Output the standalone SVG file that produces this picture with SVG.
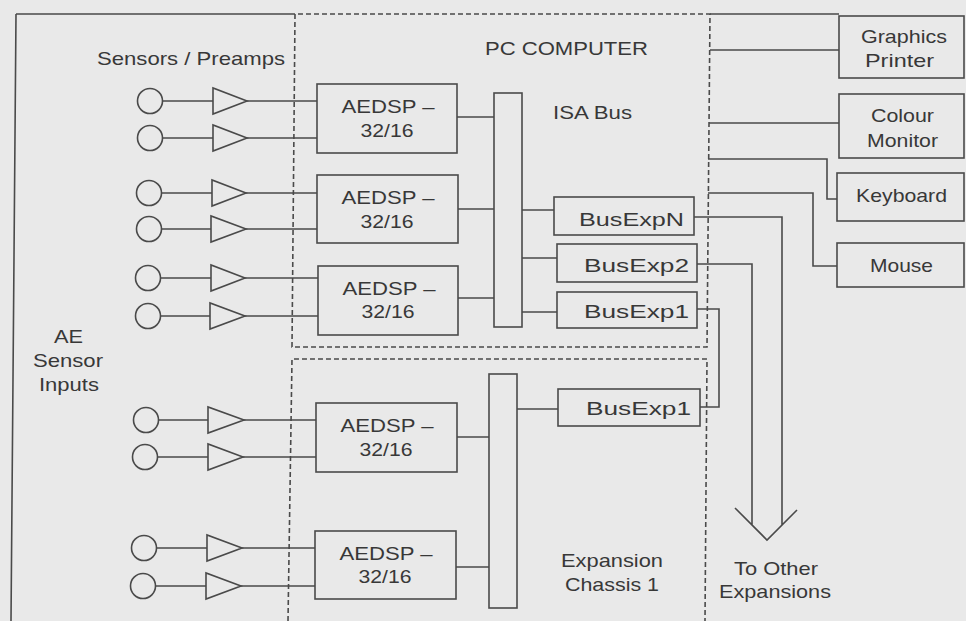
<svg xmlns="http://www.w3.org/2000/svg" width="966" height="621" viewBox="0 0 966 621">
<style>
.ln{fill:none;stroke:#4a4a4a;stroke-width:1.6}
.dash{fill:none;stroke:#4a4a4a;stroke-width:1.6;stroke-dasharray:5 3}
.box{fill:none;stroke:#4a4a4a;stroke-width:1.6}
.t{font-family:"Liberation Sans",Arial,sans-serif;font-size:19px;fill:#383838}
.m{text-anchor:middle}
</style>
<defs>
<g id="sensor"><circle cx="0" cy="0" r="12.5" class="ln"/></g>
</defs>
<rect width="966" height="621" fill="#e9e9e9"/>

<g id="frame">
<path class="ln" d="M16,14 H295 M710,14 H839 M16,14 L11,621"/>
</g>
<g id="pc-computer">
<path class="dash" d="M292,347 L295,14 H710 L707,347 Z"/>
<text class="t" x="485" y="55" textLength="163" lengthAdjust="spacingAndGlyphs">PC COMPUTER</text>
</g>
<g id="expansion-chassis">
<path class="dash" d="M288,621 L292,359 H707 L705,621"/>
<text class="t" x="561" y="567" textLength="102" lengthAdjust="spacingAndGlyphs">Expansion</text>
<text class="t" x="565" y="591" textLength="94" lengthAdjust="spacingAndGlyphs">Chassis 1</text>
</g>

<g id="labels">
<text class="t" x="97" y="65" textLength="188" lengthAdjust="spacingAndGlyphs">Sensors / Preamps</text>
<text class="t" x="54" y="343" textLength="29" lengthAdjust="spacingAndGlyphs">AE</text>
<text class="t" x="33" y="367" textLength="70" lengthAdjust="spacingAndGlyphs">Sensor</text>
<text class="t" x="39" y="391" textLength="60" lengthAdjust="spacingAndGlyphs">Inputs</text>
<text class="t" x="553" y="119" textLength="79" lengthAdjust="spacingAndGlyphs">ISA Bus</text>
<text class="t" x="734" y="575" textLength="84" lengthAdjust="spacingAndGlyphs">To Other</text>
<text class="t" x="719" y="598" textLength="112" lengthAdjust="spacingAndGlyphs">Expansions</text>
</g>

<g id="sensors">
<circle class="ln" cx="150" cy="101" r="12.5"/><path class="ln" d="M213,88 V114 L247,101 Z"/>
<circle class="ln" cx="150" cy="138" r="12.5"/><path class="ln" d="M213,125 V151 L247,138 Z"/>
<circle class="ln" cx="149" cy="193" r="12.5"/><path class="ln" d="M212,180 V206 L246,193 Z"/>
<circle class="ln" cx="149" cy="229" r="12.5"/><path class="ln" d="M211,216 V242 L246,229 Z"/>
<circle class="ln" cx="148" cy="278" r="12.5"/><path class="ln" d="M211,265 V291 L245,278 Z"/>
<circle class="ln" cx="148" cy="316" r="12.5"/><path class="ln" d="M210,303 V329 L245,316 Z"/>
<circle class="ln" cx="146" cy="420" r="12.5"/><path class="ln" d="M208,407 V433 L244,420 Z"/>
<circle class="ln" cx="145" cy="457" r="12.5"/><path class="ln" d="M208,444 V470 L243,457 Z"/>
<circle class="ln" cx="144" cy="548" r="12.5"/><path class="ln" d="M207,535 V561 L242,548 Z"/>
<circle class="ln" cx="143" cy="586" r="12.5"/><path class="ln" d="M206,573 V599 L241,586 Z"/>
</g>

<g id="aedsp1"><rect class="box" x="317" y="84" width="140" height="69"/>
<text class="t m" x="388" y="113" textLength="93" lengthAdjust="spacingAndGlyphs">AEDSP –</text>
<text class="t m" x="387" y="137" textLength="53" lengthAdjust="spacingAndGlyphs">32/16</text></g>
<g id="aedsp2"><rect class="box" x="317" y="175" width="141" height="68"/>
<text class="t m" x="388" y="204" textLength="93" lengthAdjust="spacingAndGlyphs">AEDSP –</text>
<text class="t m" x="387" y="228" textLength="53" lengthAdjust="spacingAndGlyphs">32/16</text></g>
<g id="aedsp3"><rect class="box" x="318" y="266" width="140" height="69"/>
<text class="t m" x="389" y="295" textLength="93" lengthAdjust="spacingAndGlyphs">AEDSP –</text>
<text class="t m" x="388" y="318" textLength="53" lengthAdjust="spacingAndGlyphs">32/16</text></g>
<g id="aedsp4"><rect class="box" x="316" y="403" width="141" height="69"/>
<text class="t m" x="387" y="432" textLength="93" lengthAdjust="spacingAndGlyphs">AEDSP –</text>
<text class="t m" x="386" y="456" textLength="53" lengthAdjust="spacingAndGlyphs">32/16</text></g>
<g id="aedsp5"><rect class="box" x="315" y="531" width="141" height="68"/>
<text class="t m" x="386" y="560" textLength="93" lengthAdjust="spacingAndGlyphs">AEDSP –</text>
<text class="t m" x="385" y="583" textLength="53" lengthAdjust="spacingAndGlyphs">32/16</text></g>

<g id="isa-bus"><rect class="box" x="494" y="93" width="28" height="234"/></g>
<g id="exp-bus"><rect class="box" x="489" y="374" width="28" height="234"/></g>

<g id="busexpN"><rect class="box" x="554" y="197" width="140" height="38"/>
<text class="t" x="579" y="226" textLength="105" lengthAdjust="spacingAndGlyphs">BusExpN</text></g>
<g id="busexp2"><rect class="box" x="557" y="244" width="140" height="38"/>
<text class="t" x="584" y="272" textLength="105" lengthAdjust="spacingAndGlyphs">BusExp2</text></g>
<g id="busexp1-pc"><rect class="box" x="557" y="292" width="140" height="36"/>
<text class="t" x="584" y="318" textLength="105" lengthAdjust="spacingAndGlyphs">BusExp1</text></g>
<g id="busexp1-exp"><rect class="box" x="558" y="389" width="142" height="37"/>
<text class="t" x="586" y="415" textLength="105" lengthAdjust="spacingAndGlyphs">BusExp1</text></g>

<g id="graphics-printer"><rect class="box" x="839" y="16" width="125" height="62"/>
<text class="t" x="861" y="43" textLength="86" lengthAdjust="spacingAndGlyphs">Graphics</text>
<text class="t" x="865" y="67" textLength="69" lengthAdjust="spacingAndGlyphs">Printer</text></g>
<g id="colour-monitor"><rect class="box" x="839" y="94" width="125" height="64"/>
<text class="t" x="871" y="122" textLength="63" lengthAdjust="spacingAndGlyphs">Colour</text>
<text class="t" x="867" y="147" textLength="71" lengthAdjust="spacingAndGlyphs">Monitor</text></g>
<g id="keyboard"><rect class="box" x="837" y="173" width="127" height="48"/>
<text class="t" x="856" y="202" textLength="91" lengthAdjust="spacingAndGlyphs">Keyboard</text></g>
<g id="mouse"><rect class="box" x="837" y="243" width="127" height="44"/>
<text class="t" x="870" y="272" textLength="63" lengthAdjust="spacingAndGlyphs">Mouse</text></g>

<g id="connectors">
<path class="ln" d="M162.5,101 H213 M247,101 H317 M162.5,138 H213 M247,138 H317"/>
<path class="ln" d="M161.5,193 H212 M246,193 H317 M161.5,229 H211 M246,229 H317"/>
<path class="ln" d="M160.5,278 H211 M245,278 H318 M160.5,316 H210 M245,316 H318"/>
<path class="ln" d="M158.5,420 H208 M244,420 H316 M157.5,457 H208 M243,457 H316"/>
<path class="ln" d="M156.5,548 H207 M242,548 H315 M155.5,586 H206 M241,586 H315"/>
<path class="ln" d="M457,117 H494 M458,209 H494 M458,298 H494 M457,437 H489 M456,567 H489"/>
<path class="ln" d="M522,210 H554 M522,258 H557 M522,312 H557 M517,409 H558"/>
<path class="ln" d="M694,217 H782 V525 M697,264 H752 V525 M735,508 L767,540 L797,510"/>
<path class="ln" d="M697,309 H719 V407 H700"/>
<path class="ln" d="M710,50 H839 M709,123 H839 M708,159 H827 V199 H837 M708,193 H813 V266 H837"/>
</g>
</svg>
